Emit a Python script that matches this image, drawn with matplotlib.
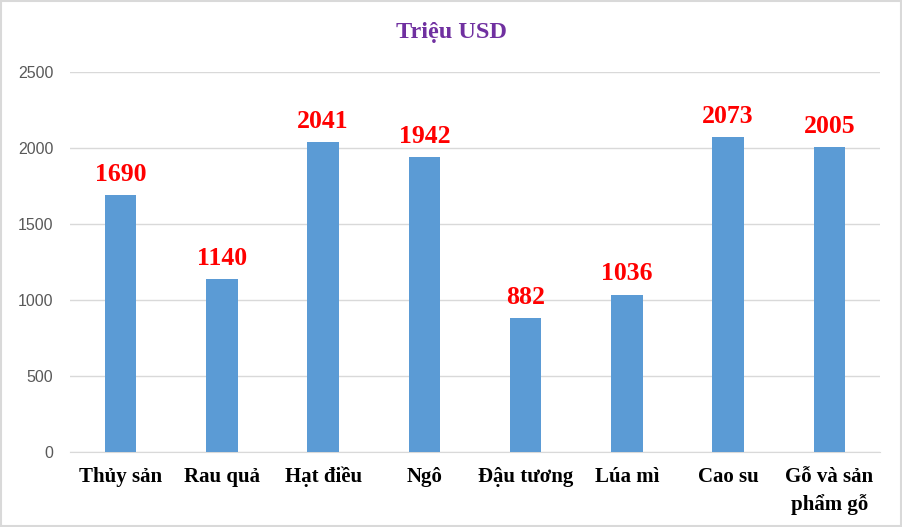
import matplotlib
matplotlib.use("Agg")
import matplotlib.pyplot as plt
import matplotlib.patches as mpatches
import numpy as np

categories = ["Thủy sản", "Rau quả", "Hạt điều", "Ngô", "Đậu tương",
              "Lúa mì", "Cao su", "Gỗ và sản\nphẩm gỗ"]
values = [1690, 1140, 2041, 1942, 882, 1036, 2073, 2005]
yticks = [0, 500, 1000, 1500, 2000, 2500]

fig = plt.figure(figsize=(9.02, 5.27), dpi=100)
ax = fig.add_axes([0.0776, 0.1423, 0.898, 0.7211])

x = np.arange(len(categories))
ax.bar(x, values, width=0.31, color="#5B9BD5", zorder=3)

for xi, v in zip(x, values):
    ax.text(xi, v + 60, str(v), ha="center", va="bottom", color="#FF0000",
            fontsize=18.5, fontweight="bold", family="Liberation Serif")

ax.set_xlim(-0.5, len(categories) - 0.5)
ax.set_ylim(0, 2500)
ax.set_yticks(yticks)
ax.set_yticklabels([str(t) for t in yticks], color="#595959", fontsize=11.5,
                   family="Liberation Sans")
ax.set_xticks(x)
ax.set_xticklabels([])
ax.tick_params(axis="both", length=0)
ax.tick_params(axis="y", pad=12)
ax.grid(axis="y", color="#D9D9D9", linewidth=1, zorder=0)
for s in ["top", "right", "left"]:
    ax.spines[s].set_visible(False)
ax.spines["bottom"].set_color("#D9D9D9")

# category labels: every line on its own baseline so accents don't shift them
for xi, name in zip(x, categories):
    for i, line in enumerate(name.split("\n")):
        ax.text(xi, -0.079 - i * 0.0737, line,
                transform=ax.get_xaxis_transform(),
                ha="center", va="baseline", fontsize=15, fontweight="bold",
                family="Liberation Serif")

fig.text(0.5, 0.938, "Triệu USD", ha="center", va="center", color="#7030A0",
         fontsize=17.5, fontweight="bold", family="Liberation Serif")

fig.patches.append(mpatches.Rectangle((0.001, 0.001), 0.998, 0.997,
                   transform=fig.transFigure, fill=False,
                   edgecolor="#D9D9D9", linewidth=1.5))

fig.savefig("out.png", dpi=100)
